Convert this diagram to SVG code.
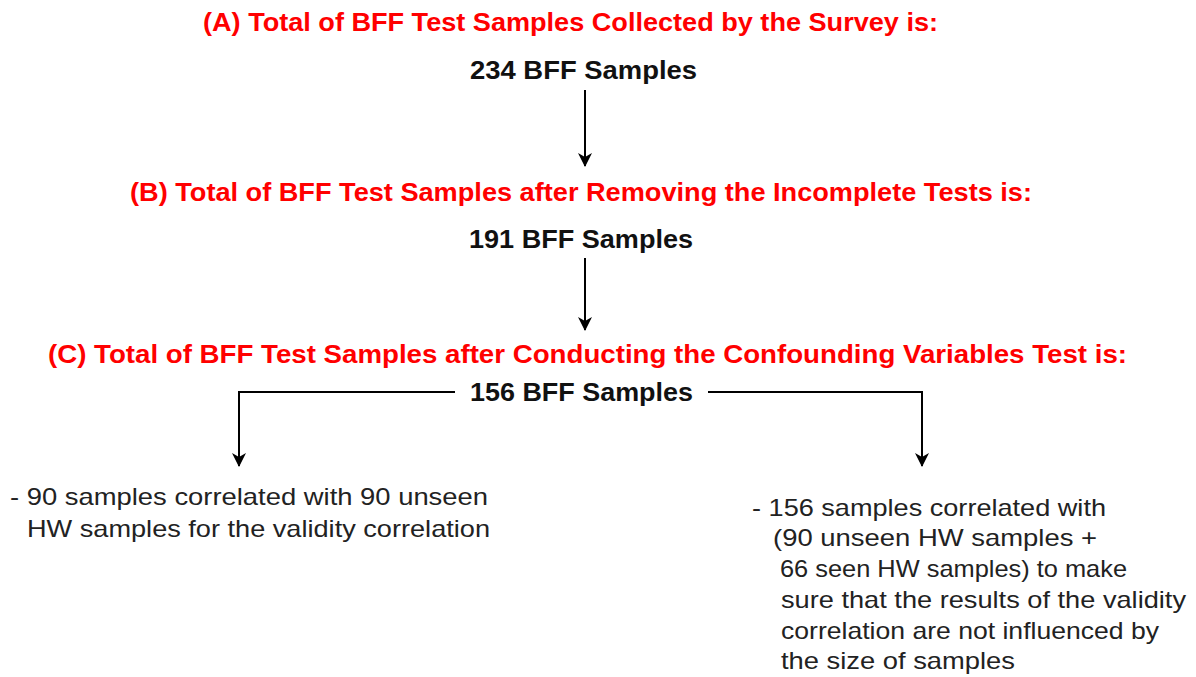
<svg xmlns="http://www.w3.org/2000/svg" width="1196" height="677" viewBox="0 0 1196 677">
<style>
.t{font-family:"Liberation Sans",Arial,sans-serif;font-weight:bold;font-size:25px;fill:#ff0000}
.n{font-family:"Liberation Sans",Arial,sans-serif;font-weight:bold;font-size:25px;fill:#111}
.d{font-family:"Liberation Sans",Arial,sans-serif;font-size:24px;fill:#222}
.c{fill:none;stroke:#000;stroke-width:2}
</style>
<defs>
<marker id="ah" viewBox="0 0 14 14" refX="13" refY="7" markerWidth="14" markerHeight="14" markerUnits="userSpaceOnUse" orient="auto">
<path d="M0,0 L14,7 L0,14 L4,7 Z" fill="#000"/>
</marker>
</defs>
<rect width="1196" height="677" fill="#fff"/>
<g id="titleA"><text class="t" x="203" y="31" textLength="735" lengthAdjust="spacingAndGlyphs">(A) Total of BFF Test Samples Collected by the Survey is:</text></g>
<g id="nodeA"><text class="n" x="470" y="79" textLength="227" lengthAdjust="spacingAndGlyphs">234 BFF Samples</text></g>
<g id="titleB"><text class="t" x="130" y="201" textLength="902" lengthAdjust="spacingAndGlyphs">(B) Total of BFF Test Samples after Removing the Incomplete Tests is:</text></g>
<g id="nodeB"><text class="n" x="469" y="248" textLength="224" lengthAdjust="spacingAndGlyphs">191 BFF Samples</text></g>
<g id="titleC"><text class="t" x="48" y="363" textLength="1079" lengthAdjust="spacingAndGlyphs">(C) Total of BFF Test Samples after Conducting the Confounding Variables Test is:</text></g>
<g id="nodeC"><text class="n" x="470" y="401" textLength="223" lengthAdjust="spacingAndGlyphs">156 BFF Samples</text></g>
<g id="leftNote">
<text class="d" x="10" y="505" textLength="478" lengthAdjust="spacingAndGlyphs">- 90 samples correlated with 90 unseen</text>
<text class="d" x="27" y="537" textLength="463" lengthAdjust="spacingAndGlyphs">HW samples for the validity correlation</text>
</g>
<g id="rightNote">
<text class="d" x="752" y="516" textLength="354" lengthAdjust="spacingAndGlyphs">- 156 samples correlated with</text>
<text class="d" x="773" y="546" textLength="324" lengthAdjust="spacingAndGlyphs">(90 unseen HW samples +</text>
<text class="d" x="780" y="577" textLength="347" lengthAdjust="spacingAndGlyphs">66 seen HW samples) to make</text>
<text class="d" x="781" y="608" textLength="405" lengthAdjust="spacingAndGlyphs">sure that the results of the validity</text>
<text class="d" x="781" y="639" textLength="378" lengthAdjust="spacingAndGlyphs">correlation are not influenced by</text>
<text class="d" x="781" y="669" textLength="234" lengthAdjust="spacingAndGlyphs">the size of samples</text>
</g>
<g id="connectors">
<path class="c" d="M585,90 L585,166" marker-end="url(#ah)"/>
<path class="c" d="M585,258 L585,330" marker-end="url(#ah)"/>
<path class="c" d="M455,392 L239,392 L239,466" marker-end="url(#ah)"/>
<path class="c" d="M708,392 L922,392 L922,466" marker-end="url(#ah)"/>
</g>
</svg>
